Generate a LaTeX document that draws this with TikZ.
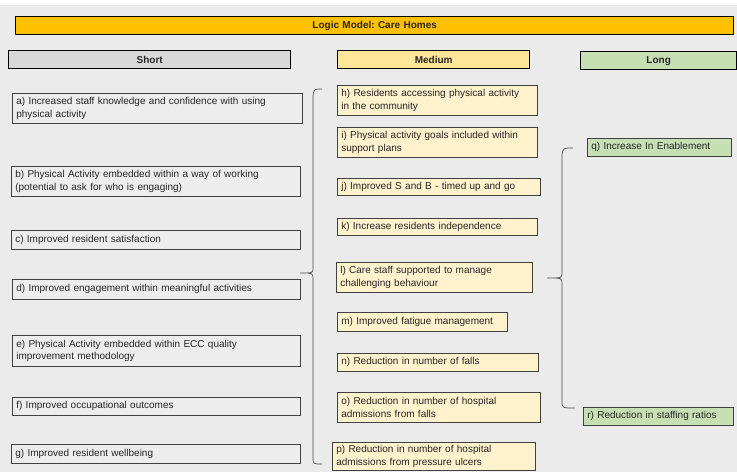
\documentclass[tikz,border=0pt]{standalone}
\usepackage{fontspec}
\setmainfont{Liberation Sans}
\frenchspacing
\definecolor{bgc}{HTML}{EBEBEB}
\definecolor{titlec}{HTML}{FFC000}
\definecolor{shorth}{HTML}{D9D9D9}
\definecolor{medh}{HTML}{FFE699}
\definecolor{longh}{HTML}{C6E0B4}
\definecolor{medfill}{HTML}{FFF2CC}
\definecolor{sfill}{HTML}{EDEDED}
\newcommand\bx[7]{%
  \pgfmathsetlengthmacro\tw{#5pt-8pt}%
  \node[#2, text width=\tw, minimum height=#6pt] (#1) at (#3,#4) {#7};}
\begin{document}
\begin{tikzpicture}[x=1pt,y=-1pt,
  base/.style={draw=black!75, line width=0.6pt, anchor=north west, inner xsep=4pt, inner ysep=0pt, align=left,
    font=\fontsize{10}{12.5}\selectfont, text=black!85},
  sbox/.style={base, fill=sfill},
  mbox/.style={base, fill=medfill},
  lbox/.style={base, fill=longh},
  hdr/.style={draw=black, line width=1.4pt, anchor=north west, inner sep=0pt, align=center,
    font=\bfseries\fontsize{10}{12}\selectfont, text=black!85},
  brace/.style={draw=black!70, line width=0.7pt}]
\useasboundingbox (0,0) rectangle (737,472);
\fill[bgc] (0,0) rectangle (737,472);
\fill[white] (0,0) rectangle (737,5);
% title and headers
\bx{title}{hdr, fill=titlec}{15}{16}{726}{18}{Logic Model: Care Homes}
\bx{hs}{hdr, fill=shorth}{8}{50}{290}{18}{Short}
\bx{hm}{hdr, fill=medh}{337}{50}{200}{18}{Medium}
\bx{hl}{hdr, fill=longh}{580}{51}{164}{18}{Long}
% short
\bx{a}{sbox}{12}{93}{290}{30}{a) Increased staff knowledge and confidence with using\\physical activity}
\bx{b}{sbox}{11}{166}{289}{30}{b) Physical Activity embedded within a way of working\\(potential to ask for who is engaging)}
\bx{c}{sbox}{11}{230}{289}{19}{c) Improved resident satisfaction}
\bx{d}{sbox}{12}{279}{288}{20}{d) Improved engagement within meaningful activities}
\bx{e}{sbox}{12}{335}{288}{31}{e) Physical Activity embedded within ECC quality\\improvement methodology}
\bx{f}{sbox}{12}{397}{288}{18}{f) Improved occupational outcomes}
\bx{g}{sbox}{11}{444}{289}{19}{g) Improved resident wellbeing}
% medium
\bx{h}{mbox}{337}{85}{200}{30}{h) Residents accessing physical activity\\in the community}
\bx{i}{mbox}{337}{127}{200}{30}{i) Physical activity goals included within\\support plans}
\bx{j}{mbox}{337}{178}{203}{17}{j) Improved S and B - timed up and go}
\bx{k}{mbox}{337}{218}{200}{17}{k) Increase residents independence}
\bx{l}{mbox}{336}{262}{196}{30}{l) Care staff supported to manage\\challenging behaviour}
\bx{m}{mbox}{337}{312}{170}{19}{m) Improved fatigue management}
\bx{n}{mbox}{337}{353}{201}{18}{n) Reduction in number of falls}
\bx{o}{mbox}{337}{392}{203}{30}{o) Reduction in number of hospital\\admissions from falls}
\bx{p}{mbox}{332}{442}{203}{28}{p) Reduction in number of hospital\\admissions from pressure ulcers}
% long
\bx{q}{lbox}{587}{138}{144}{18}{q) Increase In Enablement}
\bx{r}{lbox}{583}{407}{150}{18}{r) Reduction in staffing ratios}
% braces
\draw[brace] (322,89) .. controls (314,89) .. (313,96) -- (313,268)
  .. controls (313,273) .. (300,273) .. controls (313,273) .. (313,279) -- (313,457)
  .. controls (313,464) .. (322,464);
\draw[brace] (573,148) .. controls (563,148) .. (562,155) -- (562,273)
  .. controls (562,278) .. (547,278) .. controls (562,278) .. (562,284) -- (562,401)
  .. controls (562,408) .. (575,408);
\end{tikzpicture}
\end{document}
